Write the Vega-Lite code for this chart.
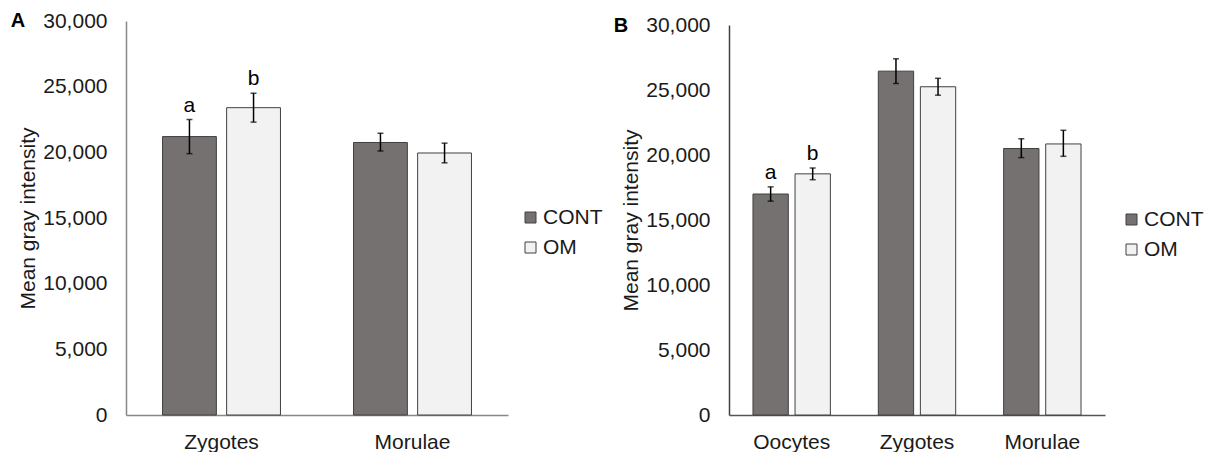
{
  "$schema": "https://vega.github.io/schema/vega-lite/v6.json",
  "padding": {"left": 10, "top": 10, "right": 0, "bottom": 0},
  "background": "white",
  "datasets": {
    "panelA": [
      {"stage": "Zygotes", "group": "CONT", "mean": 21200, "lo": 19900, "hi": 22500, "sig": "a"},
      {"stage": "Zygotes", "group": "OM", "mean": 23400, "lo": 22300, "hi": 24500, "sig": "b"},
      {"stage": "Morulae", "group": "CONT", "mean": 20750, "lo": 20100, "hi": 21450, "sig": ""},
      {"stage": "Morulae", "group": "OM", "mean": 19950, "lo": 19200, "hi": 20700, "sig": ""}
    ],
    "panelB": [
      {"stage": "Oocytes", "group": "CONT", "mean": 17000, "lo": 16450, "hi": 17550, "sig": "a"},
      {"stage": "Oocytes", "group": "OM", "mean": 18550, "lo": 18100, "hi": 19000, "sig": "b"},
      {"stage": "Zygotes", "group": "CONT", "mean": 26450, "lo": 25500, "hi": 27400, "sig": ""},
      {"stage": "Zygotes", "group": "OM", "mean": 25250, "lo": 24600, "hi": 25900, "sig": ""},
      {"stage": "Morulae", "group": "CONT", "mean": 20500, "lo": 19800, "hi": 21250, "sig": ""},
      {"stage": "Morulae", "group": "OM", "mean": 20850, "lo": 19900, "hi": 21900, "sig": ""}
    ]
  },
  "hconcat": [
    {
      "width": 382,
      "height": 394,
      "title": {"text": "A", "orient": "left", "anchor": "end", "frame": "group", "angle": 0, "align": "right", "baseline": "middle", "offset": -22, "fontSize": 20, "fontWeight": "bold", "font": "Liberation Sans", "color": "#000000"},
      "data": {"name": "panelA"},
      "encoding": {
        "x": {"field": "stage", "type": "nominal", "sort": ["Zygotes", "Morulae"], "scale": {"paddingInner": 0, "paddingOuter": 0}, "axis": {"title": null, "labelAngle": 0, "ticks": false, "labelPadding": 16}},
        "xOffset": {"field": "group", "type": "nominal", "sort": ["CONT", "OM"], "scale": {"paddingInner": 0.16, "paddingOuter": 0.57}}
      },
      "layer": [
        {
          "mark": {"type": "bar", "stroke": "#404040", "strokeWidth": 1},
          "encoding": {
            "y": {"field": "mean", "type": "quantitative", "scale": {"domain": [0, 30000]}, "axis": {"values": [0, 5000, 10000, 15000, 20000, 25000, 30000], "format": ",d", "grid": false, "ticks": false, "labelPadding": 19, "title": "Mean gray intensity", "titlePadding": 4}},
            "color": {"field": "group", "type": "nominal", "scale": {"domain": ["CONT", "OM"], "range": ["#767171", "#F2F2F2"]}, "legend": {"title": null, "orient": "none", "legendX": 394, "legendY": 186}}
          }
        },
        {
          "mark": {"type": "rule", "color": "#000000", "strokeWidth": 1.5},
          "encoding": {"y": {"field": "lo", "type": "quantitative"}, "y2": {"field": "hi"}}
        },
        {
          "mark": {"type": "tick", "color": "#000000", "size": 6, "thickness": 1.5, "orient": "horizontal"},
          "encoding": {"y": {"field": "lo", "type": "quantitative"}}
        },
        {
          "mark": {"type": "tick", "color": "#000000", "size": 6, "thickness": 1.5, "orient": "horizontal"},
          "encoding": {"y": {"field": "hi", "type": "quantitative"}}
        },
        {
          "mark": {"type": "text", "fontSize": 21, "font": "Liberation Sans", "color": "#000000", "baseline": "alphabetic", "dy": -8},
          "encoding": {"y": {"field": "hi", "type": "quantitative"}, "text": {"field": "sig"}}
        }
      ]
    },
    {
      "width": 376,
      "height": 394,
      "title": {"text": "B", "orient": "left", "anchor": "end", "frame": "group", "angle": 0, "align": "right", "baseline": "middle", "offset": -22, "dy": 5, "fontSize": 20, "fontWeight": "bold", "font": "Liberation Sans", "color": "#000000"},
      "data": {"name": "panelB"},
      "encoding": {
        "x": {"field": "stage", "type": "nominal", "sort": ["Oocytes", "Zygotes", "Morulae"], "scale": {"paddingInner": 0, "paddingOuter": 0}, "axis": {"title": null, "labelAngle": 0, "ticks": false, "labelPadding": 16, "domainColor": "#555555"}},
        "xOffset": {"field": "group", "type": "nominal", "sort": ["CONT", "OM"], "scale": {"paddingInner": 0.16, "paddingOuter": 0.57}}
      },
      "layer": [
        {
          "mark": {"type": "bar", "stroke": "#404040", "strokeWidth": 1},
          "encoding": {
            "y": {"field": "mean", "type": "quantitative", "scale": {"domain": [0, 30000], "range": [394, 4]}, "axis": {"values": [0, 5000, 10000, 15000, 20000, 25000, 30000], "format": ",d", "grid": false, "ticks": false, "labelPadding": 19, "title": "Mean gray intensity", "titlePadding": 4, "domainColor": "#404040"}},
            "color": {"field": "group", "type": "nominal", "scale": {"domain": ["CONT", "OM"], "range": ["#767171", "#F2F2F2"]}, "legend": {"title": null, "orient": "none", "legendX": 392, "legendY": 188}}
          }
        },
        {
          "mark": {"type": "rule", "color": "#000000", "strokeWidth": 1.5},
          "encoding": {"y": {"field": "lo", "type": "quantitative"}, "y2": {"field": "hi"}}
        },
        {
          "mark": {"type": "tick", "color": "#000000", "size": 6, "thickness": 1.5, "orient": "horizontal"},
          "encoding": {"y": {"field": "lo", "type": "quantitative"}}
        },
        {
          "mark": {"type": "tick", "color": "#000000", "size": 6, "thickness": 1.5, "orient": "horizontal"},
          "encoding": {"y": {"field": "hi", "type": "quantitative"}}
        },
        {
          "mark": {"type": "text", "fontSize": 21, "font": "Liberation Sans", "color": "#000000", "baseline": "alphabetic", "dy": -8},
          "encoding": {"y": {"field": "hi", "type": "quantitative"}, "text": {"field": "sig"}}
        }
      ]
    }
  ],
  "resolve": {"scale": {"color": "independent", "x": "independent", "xOffset": "independent", "y": "independent"}, "legend": {"color": "independent"}},
  "bounds": "flush",
  "spacing": 221,
  "config": {
    "font": "Liberation Sans",
    "view": {"stroke": null},
    "axis": {
      "labelFont": "Liberation Sans",
      "labelFontSize": 21,
      "labelColor": "#1a1a1a",
      "titleFont": "Liberation Sans",
      "titleFontSize": 21,
      "titleFontWeight": "normal",
      "titleColor": "#1a1a1a",
      "domainColor": "#888888",
      "domainWidth": 1.5
    },
    "legend": {
      "labelFont": "Liberation Sans",
      "labelFontSize": 21,
      "labelColor": "#1a1a1a",
      "symbolType": "square",
      "symbolSize": 121,
      "symbolStrokeColor": "#404040",
      "symbolStrokeWidth": 1,
      "labelOffset": 2,
      "rowPadding": 8,
      "padding": 0
    }
  }
}
